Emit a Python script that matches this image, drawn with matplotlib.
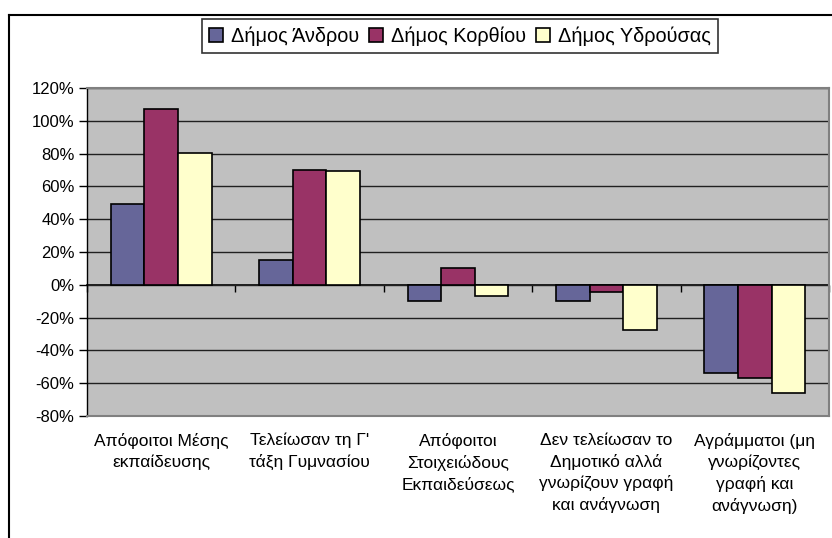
import matplotlib
matplotlib.use("Agg")
import matplotlib.pyplot as plt
import numpy as np
from matplotlib.lines import Line2D
from matplotlib.ticker import FixedLocator, FuncFormatter

plt.rcParams['font.family'] = ['Liberation Sans', 'DejaVu Sans']

categories = [
    "Απόφοιτοι Μέσης\nεκπαίδευσης",
    "Τελείωσαν τη Γ'\nτάξη Γυμνασίου",
    "Απόφοιτοι\nΣτοιχειώδους\nΕκπαιδεύσεως",
    "Δεν τελείωσαν το\nΔημοτικό αλλά\nγνωρίζουν γραφή\nκαι ανάγνωση",
    "Αγράμματοι (μη\nγνωρίζοντες\nγραφή και\nανάγνωση)",
]
series_names = ["Δήμος Άνδρου", "Δήμος Κορθίου", "Δήμος Υδρούσας"]
andros = [49, 15, -10, -10, -54]
korthi = [107, 70, 10, -4.5, -57]
ydrousa = [80.5, 69.5, -7, -27.5, -66]
series = [andros, korthi, ydrousa]
colors = ["#666699", "#993366", "#FFFFCC"]
yticks = [-80, -60, -40, -20, 0, 20, 40, 60, 80, 100, 120]

fig = plt.figure(figsize=(8.32, 5.38), dpi=100)
W, H = 832, 538
ax = fig.add_axes([87 / W, 1 - 416 / H, (829 - 87) / W, (416 - 88) / H])
ax.set_facecolor("#C0C0C0")

x = np.arange(len(categories))
bw = 0.226
for i, (vals, col, name) in enumerate(zip(series, colors, series_names)):
    ax.bar(x + (i - 1) * bw, vals, width=bw, color=col, edgecolor="black",
           linewidth=1.2, label=name, zorder=3)

ax.set_xlim(-0.5, len(categories) - 0.5)
ax.set_ylim(-80, 120)
ax.yaxis.set_major_locator(FixedLocator(yticks))
ax.yaxis.set_major_formatter(FuncFormatter(lambda v, p: f"{int(v)}%"))
ax.grid(axis="y", color="#202020", linewidth=1, zorder=1)
ax.set_axisbelow(True)

for s in ["top", "right", "bottom"]:
    ax.spines[s].set_color("#808080")
    ax.spines[s].set_linewidth(1.5)
ax.spines["left"].set_color("black")
ax.spines["left"].set_linewidth(1)

ax.tick_params(axis="y", direction="out", length=6, width=1, labelsize=12,
               pad=3, colors="black")
ax.set_xticks(x)
ax.set_xticklabels(categories, fontsize=12.5, linespacing=1.45, va="top")
ax.tick_params(axis="x", length=0, pad=12)

# category axis crossing at zero
sec = ax.secondary_xaxis(0.4)
sec.set_xticks(np.arange(-0.5, len(categories), 1.0))
sec.set_xticklabels([])
sec.tick_params(axis="x", direction="out", length=5, width=1, color="black")
sec.spines["bottom"].set_color("black")
sec.spines["bottom"].set_linewidth(1.2)

leg = fig.legend(loc="center", bbox_to_anchor=(460 / W, 1 - 36 / H), ncol=3,
                 frameon=True, fancybox=False, edgecolor="black", fontsize=14.3,
                 handlelength=0.7, handleheight=0.7, handletextpad=0.4,
                 columnspacing=0.5, borderpad=0.35, borderaxespad=0)
leg.get_frame().set_linewidth(1.2)
for h in leg.legend_handles:
    h.set_linewidth(1.2)

# outer chart border (partially visible)
fig.add_artist(Line2D([9 / W, 9 / W], [1 - 15 / H, 0], color="black", lw=1.5,
                      transform=fig.transFigure))
fig.add_artist(Line2D([9 / W, 1], [1 - 15 / H, 1 - 15 / H], color="black", lw=1.5,
                      transform=fig.transFigure))

fig.savefig("out.png", dpi=100)
